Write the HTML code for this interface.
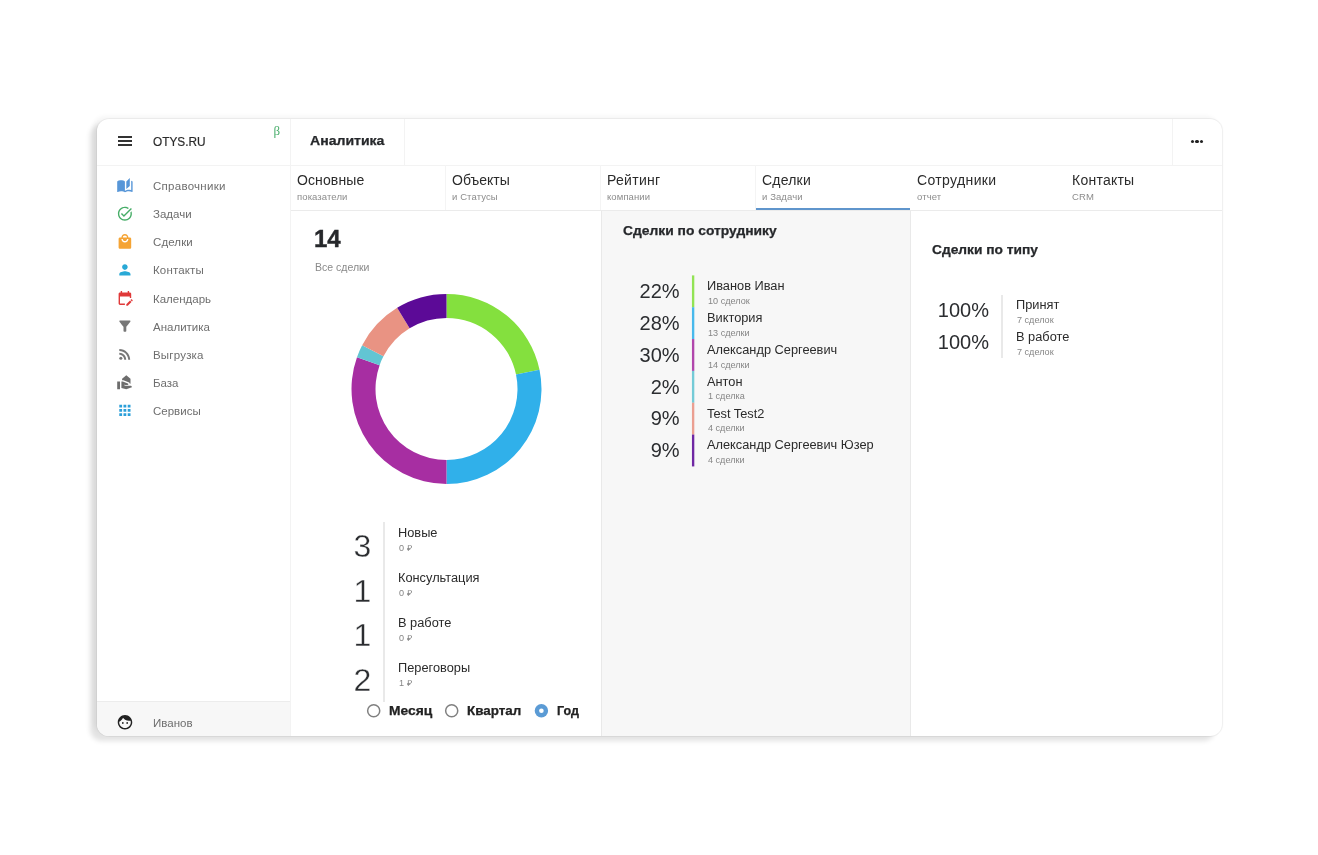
<!DOCTYPE html>
<html lang="ru">
<head>
<meta charset="utf-8">
<title>OTYS.RU — Аналитика</title>
<style>
html,body{margin:0;padding:0;background:#fff;}
body{width:1318px;height:855px;overflow:hidden;position:relative;font-family:"Liberation Sans",sans-serif;}
#card{position:absolute;left:97px;top:119px;width:1125px;height:617px;background:#fff;border-radius:12px;box-shadow:-7px 5px 5px rgba(0,0,0,0.115),-4px -3px 4px rgba(0,0,0,0.04),0 0 0 1px rgba(0,0,0,0.04),1px 0 2px rgba(0,0,0,0.03);overflow:hidden;}
.t{position:absolute;white-space:nowrap;}
.b{position:absolute;}
.g{position:absolute;left:0;top:0;width:100%;height:100%;}
svg{position:absolute;display:block;}
</style>
</head>
<body>
<div id="card">
<div class="g" id="frame">
<div class="b" style="left:504.00px;top:92.00px;width:309.00px;height:530.00px;background:#f7f7f7;"></div>
<div class="b" style="left:0.00px;top:582.00px;width:193.00px;height:40.00px;background:#f7f7f7;"></div>
<div class="b" style="left:0.00px;top:582.00px;width:193.00px;height:1.00px;background:#ececec;"></div>
<div class="b" style="left:193.00px;top:0.00px;width:1.00px;height:617.00px;background:#f3f3f3;"></div>
<div class="b" style="left:0.00px;top:45.50px;width:1125.00px;height:1.00px;background:#f3f3f3;"></div>
<div class="b" style="left:194.00px;top:91.00px;width:1125.00px;height:1.00px;background:#ebebeb;"></div>
<div class="b" style="left:307.00px;top:0.00px;width:1.00px;height:46.00px;background:#f3f3f3;"></div>
<div class="b" style="left:1075.00px;top:0.00px;width:1.00px;height:46.00px;background:#f3f3f3;"></div>
<div class="b" style="left:348.00px;top:46.00px;width:1.00px;height:45.00px;background:#f4f4f4;"></div>
<div class="b" style="left:503.00px;top:46.00px;width:1.00px;height:45.00px;background:#f4f4f4;"></div>
<div class="b" style="left:658.00px;top:46.00px;width:1.00px;height:45.00px;background:#f4f4f4;"></div>
<div class="b" style="left:503.50px;top:92.00px;width:1.00px;height:530.00px;background:#e9e9e9;"></div>
<div class="b" style="left:813.00px;top:92.00px;width:1.00px;height:530.00px;background:#e9e9e9;"></div>
<div class="b" style="left:659.00px;top:89.00px;width:154.00px;height:2.00px;background:#5f95cc;"></div>
</div>
<header class="g" id="topbar">
<div class="b" style="left:20.90px;top:17.00px;width:14.40px;height:1.90px;background:#333;"></div>
<div class="b" style="left:20.90px;top:21.00px;width:14.40px;height:1.90px;background:#333;"></div>
<div class="b" style="left:20.90px;top:25.00px;width:14.40px;height:1.90px;background:#333;"></div>
<div class="t" style="top:15.60px;font-size:13px;line-height:13px;color:#2b2b2b;left:56.00px;transform:scaleX(0.91);transform-origin:0 50%;-webkit-text-stroke:0.2px #2b2b2b;">OTYS.RU</div>
<div class="t" style="top:5.00px;font-size:13px;line-height:13px;color:#4caf6e;left:176.50px;font-family:'Liberation Serif',serif;">β</div>
<div class="t" style="top:16.22px;font-size:12.5px;line-height:12.5px;color:#26282b;font-weight:700;left:213.00px;transform:scaleX(1.125);transform-origin:0 50%;-webkit-text-stroke:0.25px #26282b;">Аналитика</div>
<div class="b" style="left:1093.60px;top:20.60px;width:3.20px;height:3.20px;background:#222;border-radius:50%;"></div>
<div class="b" style="left:1098.35px;top:20.60px;width:3.20px;height:3.20px;background:#222;border-radius:50%;"></div>
<div class="b" style="left:1103.10px;top:20.60px;width:3.20px;height:3.20px;background:#222;border-radius:50%;"></div>
</header>
<nav class="g" id="sidebar">
<div class="t" style="top:62.17px;font-size:11.5px;line-height:11.5px;color:#6e6e6e;letter-spacing:0.27px;left:56.00px;">Справочники</div>
<div class="t" style="top:90.27px;font-size:11.5px;line-height:11.5px;color:#6e6e6e;left:56.00px;">Задачи</div>
<div class="t" style="top:118.37px;font-size:11.5px;line-height:11.5px;color:#6e6e6e;letter-spacing:0.1px;left:56.00px;">Сделки</div>
<div class="t" style="top:146.47px;font-size:11.5px;line-height:11.5px;color:#6e6e6e;letter-spacing:0.16px;left:56.00px;">Контакты</div>
<div class="t" style="top:174.57px;font-size:11.5px;line-height:11.5px;color:#6e6e6e;left:56.00px;">Календарь</div>
<div class="t" style="top:202.67px;font-size:11.5px;line-height:11.5px;color:#6e6e6e;left:56.00px;">Аналитика</div>
<div class="t" style="top:230.77px;font-size:11.5px;line-height:11.5px;color:#6e6e6e;letter-spacing:0.2px;left:56.00px;">Выгрузка</div>
<div class="t" style="top:258.87px;font-size:11.5px;line-height:11.5px;color:#6e6e6e;left:56.00px;">База</div>
<div class="t" style="top:286.97px;font-size:11.5px;line-height:11.5px;color:#6e6e6e;left:56.00px;">Сервисы</div>
<svg style="left:0;top:0" width="193" height="617" viewBox="0 0 193 617">
<g transform="translate(19.50 58.20) scale(0.7000)" fill="#5796d8"><path d="M19 1l-5 5v11l5-4.500V1zM1 6v14.650c0 .250.250.500.500.500.100 0 .150-.050.250-.050C3.100 20.450 5.050 20 6.500 20c1.950 0 4.050.400 5.500 1.500V6c-1.450-1.100-3.550-1.500-5.500-1.500S2.450 4.900 1 6zm22 13.500V6c-.600-.450-1.250-.750-2-1v13.500c-1.100-.350-2.300-.500-3.500-.500-1.700 0-4.150.650-5.500 1.500v2c1.350-.850 3.800-1.500 5.500-1.500 1.650 0 3.350.300 4.750 1.050.100.050.150.050.250.050.250 0 .500-.250.500-.500v-1.100z"/></g>
<g transform="translate(19.50 86.30) scale(0.7000)" fill="#46ad67"><path d="M22 5.180L10.590 16.600l-4.240-4.240 1.410-1.410 2.830 2.830 10-10L22 5.180zm-2.210 5.040c.130.570.210 1.170.210 1.780 0 4.420-3.580 8-8 8s-8-3.580-8-8 3.580-8 8-8c1.580 0 3.040.460 4.280 1.250l1.440-1.440C16.100 2.670 14.130 2 12 2 6.480 2 2 6.480 2 12s4.480 10 10 10 10-4.480 10-10c0-1.190-.220-2.330-.600-3.390l-1.610 1.610z"/></g>
<g transform="translate(19.50 114.40) scale(0.7000)" fill="#f5a435"><path d="M19 6h-2c0-2.760-2.240-5-5-5S7 3.240 7 6H5c-1.100 0-1.990.900-1.990 2L3 20c0 1.100.900 2 2 2h14c1.100 0 2-.900 2-2V8c0-1.100-.900-2-2-2zm-7-3c1.660 0 3 1.340 3 3H9c0-1.660 1.340-3 3-3zm0 10c-2.760 0-5-2.240-5-5h2c0 1.660 1.340 3 3 3s3-1.340 3-3h2c0 2.760-2.240 5-5 5z"/></g>
<g transform="translate(19.50 142.50) scale(0.7000)" fill="#29a9d6"><path d="M12 12c2.210 0 4-1.790 4-4s-1.790-4-4-4-4 1.790-4 4 1.790 4 4 4zm0 2c-2.670 0-8 1.340-8 4v2h16v-2c0-2.660-5.330-4-8-4z"/></g>
<g transform="translate(19.50 170.60) scale(0.7000)" fill="#e03a3a"><path d="M12 22H5c-1.110 0-2-.900-2-2l.010-14c0-1.100.880-2 1.990-2h1V2h2v2h8V2h2v2h1c1.100 0 2 .900 2 2v6h-2v-2H5v10h7v2zm10.130-5.010l.710-.710c.390-.390.390-1.020 0-1.410l-.710-.710c-.390-.390-1.020-.390-1.410 0l-.710.710 2.120 2.120zm-.710.710l-5.300 5.300H14v-2.120l5.300-5.300 2.120 2.120z"/></g>
<g transform="translate(19.50 198.70) scale(0.7000)" fill="#777"><path d="M4.250 5.610C6.270 8.200 10 13 10 13v6c0 .550.450 1 1 1h2c.550 0 1-.450 1-1v-6s3.720-4.800 5.740-7.390c.510-.660.040-1.610-.790-1.610H5.040c-.830 0-1.300.950-.790 1.610z"/></g>
<g transform="translate(19.50 226.80) scale(0.7000)" fill="#777"><circle cx="6.180" cy="17.820" r="2.180"/><path d="M4 4.440v2.830c7.030 0 12.730 5.700 12.730 12.730h2.830c0-8.590-6.970-15.560-15.560-15.560zm0 5.660v2.830c3.900 0 7.070 3.170 7.070 7.070h2.830c0-5.470-4.430-9.900-9.900-9.900z"/></g>
<g transform="translate(19.50 254.90) scale(0.7000)" fill="#6d6d6d"><path d="M1 22h4V11H1v11zm19-5h-7l-2.090-.730.330-.940L13 16h2.820c.650 0 1.180-.530 1.180-1.180 0-.490-.310-.930-.770-1.110L8.970 11H7v9.020L14 22l8-3c-.010-1.100-.890-2-2-2zM20 14V7l-6-5-6 5v2h1.770l7.490 2.800c.850.320 1.740 1.230 1.740 2.200h1z"/></g>
<g transform="translate(19.50 283.00) scale(0.7000)" fill="#2b9fd9"><path d="M4 8h4V4H4v4zm6 12h4v-4h-4v4zm-6 0h4v-4H4v4zm0-6h4v-4H4v4zm6 0h4v-4h-4v4zm6-10v4h4V4h-4zm-6 4h4V4h-4v4zm6 6h4v-4h-4v4zm0 6h4v-4h-4v4z"/></g>
<g transform="translate(19.30 594.60) scale(0.7250)" fill="#222"><path d="M9 11.750c-.690 0-1.250.560-1.250 1.250s.560 1.250 1.250 1.250 1.250-.560 1.250-1.250-.560-1.250-1.250-1.250zm6 0c-.690 0-1.250.560-1.250 1.250s.560 1.250 1.250 1.250 1.250-.560 1.250-1.250-.560-1.250-1.250-1.250zM12 2C6.480 2 2 6.480 2 12s4.480 10 10 10 10-4.480 10-10S17.520 2 12 2zm0 18c-4.410 0-8-3.590-8-8 0-.290.020-.580.050-.860 2.360-1.050 4.230-2.980 5.210-5.370C11.070 8.330 14.050 10 17.420 10c.780 0 1.530-.090 2.250-.260.210.710.330 1.470.330 2.260 0 4.410-3.590 8-8 8z"/></g>
</svg>
<div class="t" style="top:599.17px;font-size:11.5px;line-height:11.5px;color:#6e6e6e;left:56.00px;">Иванов</div>
</nav>
<div class="g" id="tabs">
<div class="t" style="top:54.05px;font-size:14px;line-height:14px;color:#2b2b2b;letter-spacing:0.11px;left:200.00px;">Основные</div>
<div class="t" style="top:73.16px;font-size:9.5px;line-height:9.5px;color:#8c8c8c;letter-spacing:0.1px;left:200.00px;">показатели</div>
<div class="t" style="top:54.05px;font-size:14px;line-height:14px;color:#2b2b2b;left:355.00px;">Объекты</div>
<div class="t" style="top:73.16px;font-size:9.5px;line-height:9.5px;color:#8c8c8c;letter-spacing:0.1px;left:355.00px;">и Статусы</div>
<div class="t" style="top:54.05px;font-size:14px;line-height:14px;color:#2b2b2b;letter-spacing:0.3px;left:510.00px;">Рейтинг</div>
<div class="t" style="top:73.16px;font-size:9.5px;line-height:9.5px;color:#8c8c8c;letter-spacing:0.1px;left:510.00px;">компании</div>
<div class="t" style="top:54.05px;font-size:14px;line-height:14px;color:#2b2b2b;letter-spacing:0.2px;left:665.00px;">Сделки</div>
<div class="t" style="top:73.16px;font-size:9.5px;line-height:9.5px;color:#8c8c8c;letter-spacing:0.1px;left:665.00px;">и Задачи</div>
<div class="t" style="top:54.05px;font-size:14px;line-height:14px;color:#2b2b2b;letter-spacing:0.37px;left:820.00px;">Сотрудники</div>
<div class="t" style="top:73.16px;font-size:9.5px;line-height:9.5px;color:#8c8c8c;letter-spacing:0.1px;left:820.00px;">отчет</div>
<div class="t" style="top:54.05px;font-size:14px;line-height:14px;color:#2b2b2b;letter-spacing:0.24px;left:975.00px;">Контакты</div>
<div class="t" style="top:73.16px;font-size:9.5px;line-height:9.5px;color:#8c8c8c;letter-spacing:0.1px;left:975.00px;">CRM</div>
</div>
<section class="g" id="col-all">
<div class="t" style="top:108.28px;font-size:24px;line-height:24px;color:#26282b;font-weight:700;left:217.00px;-webkit-text-stroke:0.4px #26282b;">14</div>
<div class="t" style="top:142.81px;font-size:10.5px;line-height:10.5px;color:#8a8a8a;left:218.00px;">Все сделки</div>
<svg style="left:243.00px;top:166.00px" width="214" height="208" viewBox="340 285 214 208"><path fill="#84e03e" d="M446.50 294.00A95 95 0 0 1 539.51 369.67L516.01 374.55A71 71 0 0 0 446.50 318.00Z"/><path fill="#30b0ea" d="M539.51 369.67A95 95 0 0 1 446.50 484.00L446.50 460.00A71 71 0 0 0 516.01 374.55Z"/><path fill="#a72ea2" d="M446.50 484.00A95 95 0 0 1 356.99 357.19L379.60 365.22A71 71 0 0 0 446.50 460.00Z"/><path fill="#62c5d3" d="M356.99 357.19A95 95 0 0 1 362.15 345.29L383.46 356.34A71 71 0 0 0 379.60 365.22Z"/><path fill="#e99383" d="M362.15 345.29A95 95 0 0 1 397.14 307.83L409.61 328.34A71 71 0 0 0 383.46 356.34Z"/><path fill="#5c0a97" d="M397.14 307.83A95 95 0 0 1 446.50 294.00L446.50 318.00A71 71 0 0 0 409.61 328.34Z"/></svg>
<div class="b" style="left:286.40px;top:403.00px;width:2.00px;height:180.00px;background:#e9e9e9;"></div>
<div class="t" style="top:410.91px;font-size:32px;line-height:32px;color:#2b2d30;right:850.70px;text-align:right;-webkit-text-stroke:0.35px #fff;">3</div>
<div class="t" style="top:407.89px;font-size:12.3px;line-height:12.3px;color:#2b2b2b;left:301.30px;transform:scaleX(1.04);transform-origin:0 50%;">Новые</div>
<div class="t" style="top:426.36px;font-size:8.2px;line-height:8.2px;color:#858585;left:301.50px;transform:scaleX(1.11);transform-origin:0 50%;">0 ₽</div>
<div class="t" style="top:455.61px;font-size:32px;line-height:32px;color:#2b2d30;right:850.70px;text-align:right;-webkit-text-stroke:0.35px #fff;">1</div>
<div class="t" style="top:452.89px;font-size:12.3px;line-height:12.3px;color:#2b2b2b;left:301.30px;transform:scaleX(1.04);transform-origin:0 50%;">Консультация</div>
<div class="t" style="top:471.26px;font-size:8.2px;line-height:8.2px;color:#858585;left:301.50px;transform:scaleX(1.11);transform-origin:0 50%;">0 ₽</div>
<div class="t" style="top:500.31px;font-size:32px;line-height:32px;color:#2b2d30;right:850.70px;text-align:right;-webkit-text-stroke:0.35px #fff;">1</div>
<div class="t" style="top:497.89px;font-size:12.3px;line-height:12.3px;color:#2b2b2b;left:301.30px;transform:scaleX(1.04);transform-origin:0 50%;">В работе</div>
<div class="t" style="top:516.16px;font-size:8.2px;line-height:8.2px;color:#858585;left:301.50px;transform:scaleX(1.11);transform-origin:0 50%;">0 ₽</div>
<div class="t" style="top:545.01px;font-size:32px;line-height:32px;color:#2b2d30;right:850.70px;text-align:right;-webkit-text-stroke:0.35px #fff;">2</div>
<div class="t" style="top:542.89px;font-size:12.3px;line-height:12.3px;color:#2b2b2b;left:301.30px;transform:scaleX(1.04);transform-origin:0 50%;">Переговоры</div>
<div class="t" style="top:561.06px;font-size:8.2px;line-height:8.2px;color:#858585;left:301.50px;transform:scaleX(1.11);transform-origin:0 50%;">1 ₽</div>
<svg style="left:263px;top:581px" width="200" height="24" viewBox="263 581 200 24">
<circle cx="276.70" cy="591.80" r="6.05" fill="#fff" stroke="#808080" stroke-width="1.5"/>
<circle cx="354.70" cy="591.80" r="6.05" fill="#fff" stroke="#808080" stroke-width="1.5"/>
<circle cx="444.40" cy="591.80" r="6.7" fill="#5b9bd5"/><circle cx="444.40" cy="591.80" r="2.3" fill="#fff"/>
</svg>
<div class="t" style="top:586.24px;font-size:12px;line-height:12px;color:#222;font-weight:700;left:292.30px;transform:scaleX(1.15);transform-origin:0 50%;-webkit-text-stroke:0.25px #222;">Месяц</div>
<div class="t" style="top:586.24px;font-size:12px;line-height:12px;color:#222;font-weight:700;left:370.40px;transform:scaleX(1.115);transform-origin:0 50%;-webkit-text-stroke:0.25px #222;">Квартал</div>
<div class="t" style="top:586.24px;font-size:12px;line-height:12px;color:#222;font-weight:700;left:460.00px;transform:scaleX(1.045);transform-origin:0 50%;-webkit-text-stroke:0.25px #222;">Год</div>
</section>
<section class="g" id="col-staff">
<div class="t" style="top:105.65px;font-size:12.7px;line-height:12.7px;color:#26282b;font-weight:700;left:526.40px;transform:scaleX(1.091);transform-origin:0 50%;-webkit-text-stroke:0.25px #26282b;">Сделки по сотруднику</div>
<svg style="left:593px;top:151px" width="6" height="200" viewBox="690 270 6 200"><rect x="691.95" y="275.40" width="2.35" height="31.85" fill="#84e03e" opacity="0.88"/><rect x="691.95" y="307.23" width="2.35" height="31.85" fill="#30b0ea" opacity="0.88"/><rect x="691.95" y="339.07" width="2.35" height="31.85" fill="#a72ea2" opacity="0.88"/><rect x="691.95" y="370.90" width="2.35" height="31.85" fill="#62c5d3" opacity="0.88"/><rect x="691.95" y="402.73" width="2.35" height="31.85" fill="#e99383" opacity="0.88"/><rect x="691.95" y="434.57" width="2.35" height="31.85" fill="#5c0a97" opacity="0.88"/></svg>
<div class="t" style="top:162.07px;font-size:20px;line-height:20px;color:#2b2d30;right:542.40px;text-align:right;">22%</div>
<div class="t" style="top:161.19px;font-size:12.3px;line-height:12.3px;color:#2b2b2b;left:610.20px;transform:scaleX(1.04);transform-origin:0 50%;">Иванов Иван</div>
<div class="t" style="top:178.86px;font-size:8.2px;line-height:8.2px;color:#858585;left:610.50px;transform:scaleX(1.11);transform-origin:0 50%;">10 сделок</div>
<div class="t" style="top:193.90px;font-size:20px;line-height:20px;color:#2b2d30;right:542.40px;text-align:right;">28%</div>
<div class="t" style="top:193.02px;font-size:12.3px;line-height:12.3px;color:#2b2b2b;left:610.20px;transform:scaleX(1.04);transform-origin:0 50%;">Виктория</div>
<div class="t" style="top:210.69px;font-size:8.2px;line-height:8.2px;color:#858585;left:610.50px;transform:scaleX(1.11);transform-origin:0 50%;">13 сделки</div>
<div class="t" style="top:225.74px;font-size:20px;line-height:20px;color:#2b2d30;right:542.40px;text-align:right;">30%</div>
<div class="t" style="top:224.85px;font-size:12.3px;line-height:12.3px;color:#2b2b2b;left:610.20px;transform:scaleX(1.04);transform-origin:0 50%;">Александр Сергеевич</div>
<div class="t" style="top:242.53px;font-size:8.2px;line-height:8.2px;color:#858585;left:610.50px;transform:scaleX(1.11);transform-origin:0 50%;">14 сделки</div>
<div class="t" style="top:257.57px;font-size:20px;line-height:20px;color:#2b2d30;right:542.40px;text-align:right;">2%</div>
<div class="t" style="top:256.69px;font-size:12.3px;line-height:12.3px;color:#2b2b2b;left:610.20px;transform:scaleX(1.04);transform-origin:0 50%;">Антон</div>
<div class="t" style="top:274.36px;font-size:8.2px;line-height:8.2px;color:#858585;left:610.50px;transform:scaleX(1.11);transform-origin:0 50%;">1 сделка</div>
<div class="t" style="top:289.40px;font-size:20px;line-height:20px;color:#2b2d30;right:542.40px;text-align:right;">9%</div>
<div class="t" style="top:288.52px;font-size:12.3px;line-height:12.3px;color:#2b2b2b;left:610.20px;transform:scaleX(1.04);transform-origin:0 50%;">Test Test2</div>
<div class="t" style="top:306.19px;font-size:8.2px;line-height:8.2px;color:#858585;left:610.50px;transform:scaleX(1.11);transform-origin:0 50%;">4 сделки</div>
<div class="t" style="top:321.24px;font-size:20px;line-height:20px;color:#2b2d30;right:542.40px;text-align:right;">9%</div>
<div class="t" style="top:320.35px;font-size:12.3px;line-height:12.3px;color:#2b2b2b;left:610.20px;transform:scaleX(1.04);transform-origin:0 50%;">Александр Сергеевич Юзер</div>
<div class="t" style="top:338.03px;font-size:8.2px;line-height:8.2px;color:#858585;left:610.50px;transform:scaleX(1.11);transform-origin:0 50%;">4 сделки</div>
</section>
<section class="g" id="col-type">
<div class="t" style="top:124.65px;font-size:12.7px;line-height:12.7px;color:#26282b;font-weight:700;left:835.30px;transform:scaleX(1.085);transform-origin:0 50%;-webkit-text-stroke:0.25px #26282b;">Сделки по типу</div>
<div class="b" style="left:904.00px;top:175.70px;width:2.00px;height:63.00px;background:#e9e9e9;"></div>
<div class="t" style="top:180.67px;font-size:20px;line-height:20px;color:#2b2d30;right:233.00px;text-align:right;">100%</div>
<div class="t" style="top:180.29px;font-size:12.3px;line-height:12.3px;color:#2b2b2b;left:919.30px;transform:scaleX(1.04);transform-origin:0 50%;">Принят</div>
<div class="t" style="top:197.56px;font-size:8.2px;line-height:8.2px;color:#858585;left:919.60px;transform:scaleX(1.11);transform-origin:0 50%;">7 сделок</div>
<div class="t" style="top:212.67px;font-size:20px;line-height:20px;color:#2b2d30;right:233.00px;text-align:right;">100%</div>
<div class="t" style="top:212.29px;font-size:12.3px;line-height:12.3px;color:#2b2b2b;left:919.30px;transform:scaleX(1.04);transform-origin:0 50%;">В работе</div>
<div class="t" style="top:229.56px;font-size:8.2px;line-height:8.2px;color:#858585;left:919.60px;transform:scaleX(1.11);transform-origin:0 50%;">7 сделок</div>
</section>
</div>
</body>
</html>
